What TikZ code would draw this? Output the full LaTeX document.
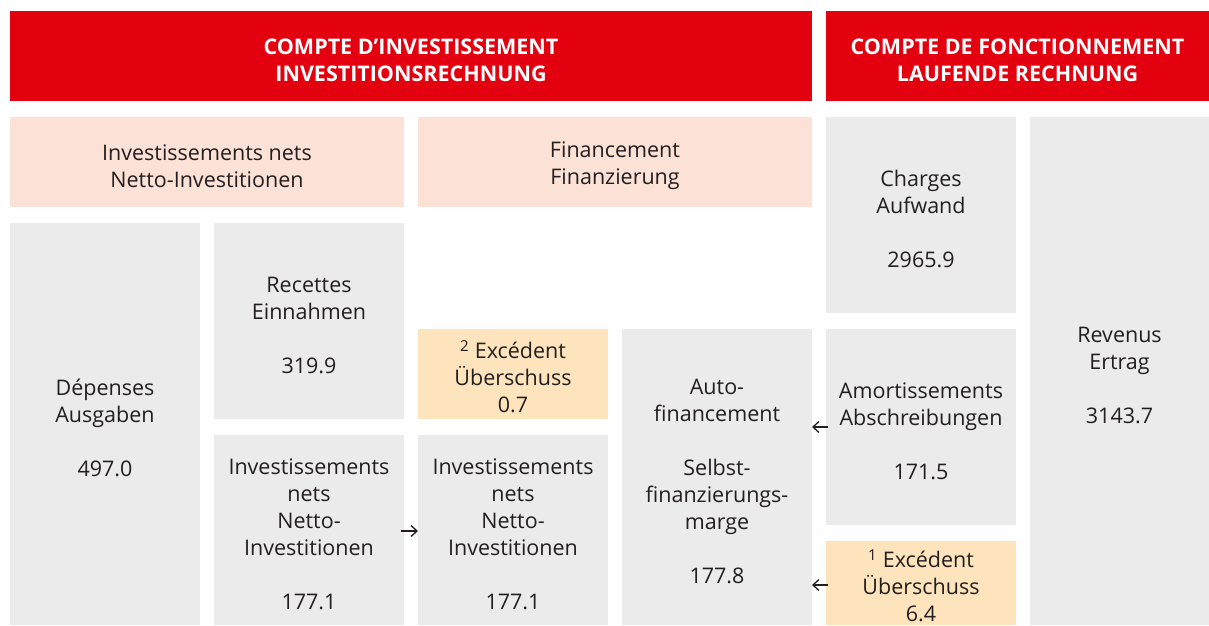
\documentclass[tikz,border=0pt]{standalone}
\usepackage{fontspec}
\setmainfont{Open Sans}
\usetikzlibrary{positioning, arrows.meta}
\definecolor{hdred}{RGB}{227,0,15}
\definecolor{boxgrey}{RGB}{235,235,235}
\definecolor{boxpink}{RGB}{252,225,214}
\definecolor{boxorange}{RGB}{253,228,188}
\definecolor{txt}{RGB}{35,31,32}
\newcommand{\topgap}{\\[-3pt]} % empty first line: sets the text a little lower
\tikzset{
x=1pt, y=-1pt, % one unit is one pixel of the layout
>={Straight Barb[length=6pt, width=11pt]}, % thin open arrow heads
every node/.style={inner sep=0pt, outer sep=0pt, anchor=north west, align=center},
header/.style={fill=hdred, text=white, font=\fontsize{21.5}{27}\selectfont\bfseries},
cell/.style={fill=boxgrey, text=txt, font=\fontsize{21.5}{27}\selectfont},
pinkcell/.style={cell, fill=boxpink},
surplus/.style={cell, fill=boxorange},
link/.style={->, line width=1.3pt, txt}, % small arrows between the boxes
}
\begin{document}
\begin{tikzpicture}
        \useasboundingbox (0,0) rectangle (1209,625);

        % headers
        \node[header, minimum width=802pt, minimum height=90pt] (hinv) at (10,11)
          {\topgap COMPTE D'INVESTISSEMENT\\INVESTITIONSRECHNUNG};
        \node[header, minimum width=383pt, minimum height=90pt] (hfun) at (826,11)
          {\topgap COMPTE DE FONCTIONNEMENT\\LAUFENDE RECHNUNG};

        % investment account
        \node[pinkcell, minimum width=394pt, minimum height=90pt] (netinv) at (10,117)
          {\topgap Investissements nets\\Netto-Investitionen};
        \node[pinkcell, minimum width=394pt, minimum height=90pt] (financ) at (418,117)
          {\topgap Financement\\Finanzierung};
        \node[cell, minimum width=190pt, minimum height=402pt] (depens) at (10,223)
          {\topgap Dépenses\\Ausgaben\\[27pt]497.0};
        \node[cell, minimum width=190pt, minimum height=196pt] (recet) at (214,223)
          {\topgap Recettes\\Einnahmen\\[27pt]319.9};
        \node[cell, minimum width=190pt, minimum height=190pt] (investL) at (214,435)
          {\topgap Investissements\\nets\\Netto-\\Investitionen\\[27pt]177.1};
        \node[surplus, minimum width=190pt, minimum height=90pt] (excB) at (418,329)
          {\topgap\textsuperscript{2} Excédent\\Überschuss\\0.7};
        \node[cell, minimum width=190pt, minimum height=190pt] (investR) at (418,435)
          {\topgap Investissements\\nets\\Netto-\\Investitionen\\[27pt]177.1};
        \node[cell, minimum width=190pt, minimum height=296pt] (autofin) at (622,329)
          {\topgap Auto-\\financement\\[27pt]Selbst-\\finanzierungs-\\marge\\[27pt]177.8};

        % operating account
        \node[cell, minimum width=190pt, minimum height=196pt] (charges) at (826,117)
          {\topgap Charges\\Aufwand\\[27pt]2965.9};
        \node[cell, minimum width=190pt, minimum height=196pt] (amort) at (826,329)
          {\topgap Amortissements\\Abschreibungen\\[27pt]171.5};
        \node[surplus, minimum width=190pt, minimum height=84pt] (excA) at (826,541)
          {\topgap\textsuperscript{1} Excédent\\Überschuss\\6.4};
        \node[cell, minimum width=179pt, minimum height=508pt] (revenus) at (1030,117)
          {\topgap Revenus\\Ertrag\\[27pt]3143.7};

        \draw[link] ([xshift=-3pt,yshift=-1pt]investL.east) -- ([yshift=-1pt]investR.west);
        \draw[link] ([xshift=2pt]amort.west) -- (amort.west -| autofin.east);
        \draw[link] ([xshift=2pt,yshift=-2pt]excA.west) -- ([yshift=-2pt]excA.west -| autofin.east);
      \end{tikzpicture}
\end{document}
